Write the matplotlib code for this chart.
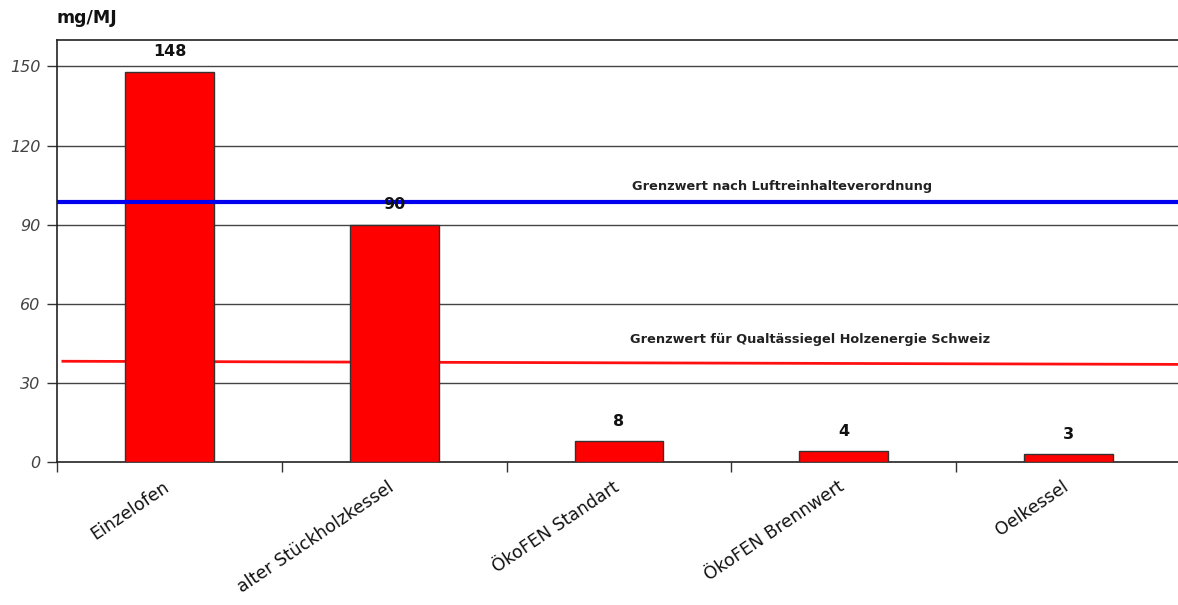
import matplotlib
matplotlib.use("Agg")
import matplotlib.pyplot as plt
import numpy as np

categories = ["Einzelofen", "alter Stückholzkessel", "ÖkoFEN Standart", "ÖkoFEN Brennwert", "Oelkessel"]
values = [148, 90, 8, 4, 3]
value_labels = ["148", "90", "8", "4", "3"]
yticks = [0, 30, 60, 90, 120, 150]
limit_lrv = 98.5
limit_lrv_label = "Grenzwert nach Luftreinhalteverordnung"
limit_qs = [38.2, 37.0]  # left end, right end
limit_qs_label = "Grenzwert für Qualtässiegel Holzenergie Schweiz"
unit = "mg/MJ"

plt.rcParams['font.family'] = ['DejaVu Sans']

fig = plt.figure(figsize=(11.78, 6.05), dpi=100)
ax = fig.add_axes([57/1178, 1-462/605, (1181-57)/1178, (462-40)/605])

x = np.arange(len(categories))
ax.set_xlim(-0.5, len(categories)-0.5)
ax.set_ylim(0, 160)

for yt in yticks[1:]:
    ax.axhline(yt, color='#444444', lw=1.0, zorder=1)

ax.bar(x, values, width=0.395, color='#FF0000', edgecolor='#333333', lw=1.0, zorder=3)

for xi, v, lab in zip(x, values, value_labels):
    ax.text(xi, v + 7.5, lab, ha='center', va='center', fontsize=11.5, fontweight='bold', color='#111111', zorder=5)

ax.axhline(limit_lrv, color='#0000EE', lw=3.0, zorder=4)
ax.text(2.727, 104.3, limit_lrv_label, ha='center', va='center', fontsize=9.3, fontweight='bold', color='#222222', zorder=5)

ax.plot([-0.48, len(categories)-0.5], limit_qs, color='#FF1010', lw=2.0, zorder=2, solid_capstyle='butt')
ax.text(2.851, 46.3, limit_qs_label, ha='center', va='center', fontsize=9.3, fontweight='bold', color='#222222', zorder=5)

ax.set_yticks(yticks)
ax.set_yticklabels([str(t) for t in yticks], fontsize=11.5, style='italic', color='#444444')
ax.tick_params(axis='y', length=7, width=1, color='#333333', pad=5)

ax.set_xticks(np.arange(-0.5, len(categories)+0.5, 1.0))
ax.set_xticklabels([])
ax.tick_params(axis='x', length=7, width=1, color='#333333', direction='out')
for xi, c in zip(x, categories):
    ax.text(xi - 0.03, -6, c, rotation=34, ha='right', va='top', rotation_mode='anchor',
            fontsize=12.5, color='#111111', transform=ax.transData, clip_on=False)

for s in ['left', 'bottom', 'top']:
    ax.spines[s].set_color('#222222')
    ax.spines[s].set_linewidth(1.2)
ax.spines['right'].set_visible(False)

fig.text(57/1178, 1-18/605, unit, ha='left', va='center', fontsize=12.5, fontweight='bold', color='#111111')

fig.savefig("out.png", dpi=100)
